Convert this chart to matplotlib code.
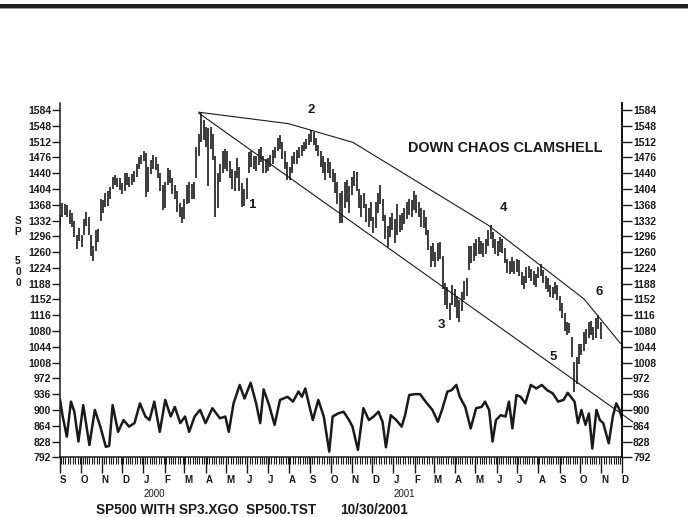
import datetime as dt
import matplotlib
matplotlib.use("Agg")
import matplotlib.pyplot as plt
import matplotlib.transforms as mtransforms
from matplotlib.patches import Rectangle

plt.rcParams['font.family'] = ['Liberation Sans', 'DejaVu Sans']

# ---------------- data ----------------
start_date = dt.date(1999, 9, 1)
end_date = dt.date(2001, 12, 1)
bar_step_days = 3.5          # two bars per week

# half-week bar highs / lows (S&P 500 futures), Sep 1999 .. Oct 2001
highs = [
    1345, 1372, 1370, 1368, 1355, 1350, 1330, 1300, 1315, 1300,   # Sep 99
    1335, 1352, 1340, 1300, 1275, 1310, 1312, 1380,               # Oct 99
    1378, 1395, 1400, 1408, 1432, 1436, 1430, 1428,               # Nov 99
    1418, 1440, 1440, 1432, 1438, 1446, 1462, 1476, 1482, 1490,   # Dec 99
    1486, 1455, 1470, 1482, 1476, 1462, 1440, 1412,               # Jan 00
    1420, 1452, 1448, 1428, 1412, 1400, 1372, 1362,               # Feb 00
    1380, 1412, 1420, 1415, 1420, 1500, 1530, 1578, 1562, 1545,   # Mar 00
    1542, 1545, 1530, 1480, 1440, 1460, 1490, 1495,               # Apr 00
    1490, 1468, 1450, 1445, 1475, 1455, 1418, 1405, 1430, 1488,   # May 00
    1490, 1478, 1480, 1495, 1500, 1478, 1472, 1475,               # Jun 00
    1482, 1492, 1500, 1520, 1527, 1510, 1490, 1465,               # Jul 00
    1455, 1478, 1488, 1492, 1500, 1505, 1512, 1518, 1530, 1538,   # Aug 00
    1534, 1520, 1505, 1490, 1478, 1465, 1475, 1465,               # Sep 00
    1450, 1440, 1420, 1395, 1400, 1420, 1425, 1410,               # Oct 00
    1432, 1444, 1442, 1405, 1390, 1395, 1370, 1360, 1375, 1340,   # Nov 00
    1375, 1395, 1413, 1380, 1345, 1320, 1340, 1350,               # Dec 00
    1335, 1370, 1345, 1350, 1360, 1375, 1380, 1378, 1400, 1390,   # Jan 01
    1375, 1360, 1355, 1340, 1310, 1275, 1280, 1260,               # Feb 01
    1280, 1284, 1250, 1190, 1180, 1145, 1185, 1175,               # Mar 01
    1160, 1150, 1170, 1195, 1200, 1275, 1275, 1280,               # Apr 01
    1290, 1295, 1285, 1280, 1290, 1310, 1322, 1305, 1290, 1285,   # May 01
    1295, 1290, 1270, 1245, 1240, 1248, 1240, 1245,               # Jun 01
    1242, 1215, 1205, 1225, 1228, 1222, 1218, 1210, 1225, 1232,   # Jul 01
    1220, 1205, 1200, 1185, 1180, 1192, 1185, 1160,               # Aug 01
    1145, 1120, 1100, 1098, 1066, 1010, 1020, 1050,               # Sep 01
    1050, 1078, 1085, 1100, 1102, 1090, 1110, 1117, 1100,         # Oct 01
]
lows = [
    1315, 1340, 1345, 1340, 1325, 1318, 1295, 1268, 1285, 1272,
    1300, 1320, 1300, 1250, 1240, 1262, 1282, 1330,
    1350, 1362, 1365, 1380, 1405, 1412, 1408, 1402,
    1392, 1400, 1412, 1408, 1412, 1420, 1432, 1450, 1462, 1468,
    1386, 1396, 1438, 1450, 1448, 1428, 1400, 1356,
    1360, 1412, 1418, 1392, 1380, 1352, 1340, 1326,
    1335, 1370, 1372, 1380, 1380, 1430, 1480, 1510, 1515, 1500,
    1410, 1495, 1470, 1340, 1360, 1420, 1440, 1450,
    1445, 1430, 1405, 1400, 1430, 1400, 1362, 1365, 1380, 1440,
    1455, 1450, 1445, 1458, 1465, 1440, 1440, 1445,
    1455, 1462, 1475, 1490, 1495, 1472, 1450, 1424,
    1425, 1440, 1460, 1462, 1475, 1480, 1490, 1495, 1505, 1512,
    1505, 1490, 1478, 1455, 1440, 1425, 1440, 1430,
    1420, 1395, 1370, 1326, 1326, 1360, 1375, 1350,
    1390, 1410, 1400, 1360, 1340, 1360, 1328, 1318, 1330, 1304,
    1315, 1350, 1370, 1330, 1290, 1272, 1295, 1310,
    1280, 1300, 1305, 1310, 1325, 1335, 1345, 1340, 1355, 1350,
    1340, 1318, 1315, 1300, 1265, 1225, 1240, 1225,
    1240, 1245, 1175, 1140, 1130, 1105, 1140, 1135,
    1110, 1100, 1125, 1150, 1160, 1220, 1235, 1240,
    1250, 1255, 1255, 1248, 1255, 1275, 1290, 1270, 1255, 1250,
    1260, 1258, 1235, 1212, 1210, 1215, 1210, 1215,
    1205, 1185, 1175, 1190, 1200, 1195, 1185, 1180, 1200, 1205,
    1190, 1175, 1170, 1158, 1155, 1165, 1150, 1125,
    1110, 1080, 1070, 1076, 1020, 942, 960, 1005,
    1025, 1035, 1050, 1065, 1070, 1060, 1065, 1085, 1062,
]

# oscillator (SP3.XGO) read as (day since 1 Sep 1999, value on price scale)
osc_days = [0, 4, 10, 16, 21, 27, 34, 43, 51, 59, 67, 72, 77, 85, 93, 101, 109,
            117, 125, 131, 138, 146, 154, 162, 168, 176, 183, 189, 197, 205, 213,
            223, 234, 242, 247, 254, 263, 270, 279, 287, 293, 298, 306, 314, 322,
            333, 341, 349, 354, 359, 364, 370, 378, 386, 394, 399, 407, 415, 423,
            428, 436, 444, 452, 459, 466, 472, 477, 484, 492, 500, 505, 511, 519,
            527, 535, 545, 553, 559, 567, 573, 580, 585, 593, 601, 609, 617, 622,
            628, 633, 638, 645, 652, 657, 662, 668, 674, 681, 689, 697, 705, 713,
            721, 729, 737, 743, 753, 758, 763, 769, 774, 779, 785, 790, 795, 803,
            809, 814, 819, 823]
osc_vals = [923, 885, 839, 919, 896, 828, 911, 820, 900, 862, 816, 818, 911, 850,
            877, 862, 870, 915, 885, 877, 919, 850, 923, 885, 907, 870, 885, 850,
            885, 900, 870, 904, 881, 885, 850, 915, 957, 926, 962, 915, 870, 947,
            911, 866, 923, 930, 919, 942, 930, 949, 915, 877, 923, 885, 805, 885,
            892, 896, 877, 862, 809, 904, 877, 885, 896, 873, 815, 888, 877, 862,
            888, 934, 936, 936, 919, 900, 873, 900, 942, 945, 957, 930, 907, 858,
            904, 907, 919, 900, 828, 877, 888, 885, 919, 858, 934, 930, 915, 957,
            949, 957, 945, 938, 919, 923, 939, 919, 870, 900, 866, 892, 812, 900,
            877, 870, 824, 885, 915, 900, 877]

# trend lines (day, value)
lower_line_days = [203, 838]
lower_line_vals = [1577, 873]
upper_line_days = [203, 334, 429, 626, 767, 820]
upper_line_vals = [1579, 1553, 1510, 1322, 1153, 1052]

y_ticks = list(range(792, 1585, 36))
month_letters = ['J', 'F', 'M', 'A', 'M', 'J', 'J', 'A', 'S', 'O', 'N', 'D']
title_text = "DOWN CHAOS CLAMSHELL"
footer_left = "SP500 WITH SP3.XGO  SP500.TST"
footer_date = "10/30/2001"
wave_labels = ['1', '2', '3', '4', '5', '6']

# ---------------- figure ----------------
W, H = 688, 517
fig = plt.figure(figsize=(W / 100, H / 100), dpi=100)

def fx(x):
    return x / W

def fy(y):
    return 1 - y / H

AX_L, AX_R, AX_T, AX_B = 60, 621.7, 103, 457.3
ax = fig.add_axes([fx(AX_L), fy(AX_B), (AX_R - AX_L) / W, (AX_B - AX_T) / H])
total_days = (end_date - start_date).days
ax.set_xlim(0, total_days)
ax.set_ylim(792, 1600)

ink = '#1a1a1a'
bar_days = [bar_step_days * i for i in range(len(highs))]
ax.vlines(bar_days, lows, highs, color=ink, lw=1.2)
ax.plot(osc_days, osc_vals, color=ink, lw=1.8, solid_joinstyle='round')
ax.plot(lower_line_days, lower_line_vals, color=ink, lw=0.8, clip_on=False)
ax.plot(upper_line_days, upper_line_vals, color=ink, lw=0.8, clip_on=False)

# spines
ax.spines['top'].set_visible(False)
for s in ['left', 'right', 'bottom']:
    ax.spines[s].set_linewidth(1.1)
    ax.spines[s].set_color(ink)

# y axis left
ax.set_yticks(y_ticks)
ax.set_yticklabels([str(v) for v in y_ticks], fontsize=7.5, fontweight='bold')
ax.tick_params(axis='y', direction='out', length=5.8, width=1.0, pad=0.5, colors=ink)

# y axis right
ax2 = ax.twinx()
ax2.set_ylim(ax.get_ylim())
ax2.set_yticks(y_ticks)
ax2.set_yticklabels([str(v) for v in y_ticks], fontsize=7.5, fontweight='bold')
ax2.tick_params(axis='y', direction='out', length=7.2, width=1.0, pad=1, colors=ink)
for s in ['top', 'left', 'bottom']:
    ax2.spines[s].set_visible(False)
ax2.spines['right'].set_linewidth(1.1)

# x axis: months (major) and twice-weekly minor ticks
month_pos = []
month_lab = []
d = start_date
while d <= end_date:
    month_pos.append((d - start_date).days)
    month_lab.append(d)
    m = d.month + 1
    d = dt.date(d.year + (m > 12), (m - 1) % 12 + 1, 1)
minor_pos = []
d = start_date
while d <= end_date:
    if d.weekday() in (0, 3):
        minor_pos.append((d - start_date).days)
    d += dt.timedelta(days=1)
ax.set_xticks(month_pos)
ax.set_xticks(minor_pos, minor=True)
ax.set_xticklabels([])
ax.tick_params(axis='x', which='major', direction='out', length=11.5, width=1.0, colors=ink)
ax.tick_params(axis='x', which='minor', direction='out', length=5.0, width=0.8, colors=ink)

trans = mtransforms.blended_transform_factory(ax.transData, fig.transFigure)
for p, dd in zip(month_pos, month_lab):
    ax.text(p, fy(480), month_letters[dd.month - 1], transform=trans, ha='left',
            va='center', fontsize=7, fontweight='bold', color=ink)
    if dd.month == 1:
        ax.text(p, fy(494), str(dd.year), transform=trans, ha='left', va='center',
                fontsize=7, color=ink)

# SP 500 vertical axis label
for ch, yy in zip(['S', 'P', '5', '0', '0'], [221, 232, 260.7, 271.9, 283.3]):
    fig.text(fx(18), fy(yy), ch, ha='center', va='center', fontsize=7.3,
             fontweight='bold', color=ink)

# annotations
fig.text(fx(505.5), fy(147.7), title_text, ha='center', va='center', fontsize=10.4,
         fontweight='bold', color=ink)
for lab, (x, y) in zip(wave_labels, [(252, 205), (311, 110), (441, 325.5),
                                     (504, 208), (553, 356.5), (599, 291.7)]):
    fig.text(fx(x), fy(y), lab, ha='center', va='center', fontsize=9.5,
             fontweight='bold', color=ink)

fig.text(fx(95.5), fy(514), footer_left, ha='left', va='baseline', fontsize=9.8,
         fontweight='bold', color=ink)
fig.text(fx(340), fy(514), footer_date, ha='left', va='baseline', fontsize=9.8,
         fontweight='bold', color=ink)

# top band
fig.add_artist(Rectangle((0, fy(8.3)), 1, 4.3 / H, transform=fig.transFigure,
                         color='#231f20', lw=0))
fig.add_artist(Rectangle((0, fy(9.0)), 1, 0.7 / H, transform=fig.transFigure,
                         color='#9a9a9a', lw=0))

fig.savefig('out.png', dpi=100)
